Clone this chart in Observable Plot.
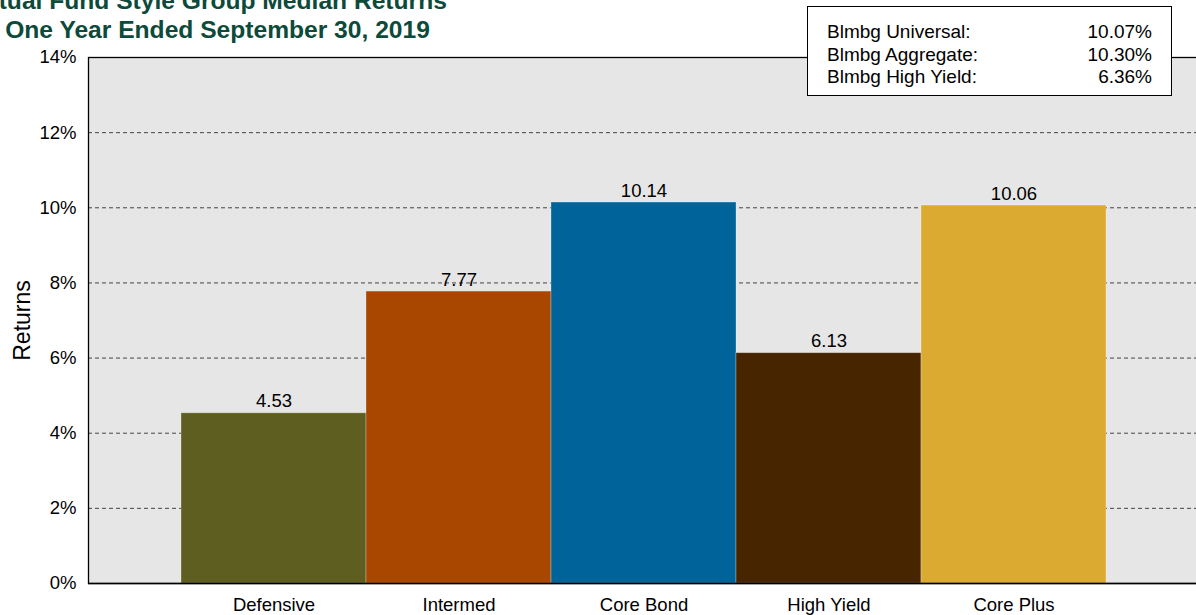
<!DOCTYPE html>
<html>
<head>
<meta charset="utf-8">
<script src="https://cdn.jsdelivr.net/npm/d3@7"></script>
<script src="https://cdn.jsdelivr.net/npm/@observablehq/plot@0.6"></script>
<style>
  html, body { margin: 0; padding: 0; background: #fff; }
  body { font-family: "Liberation Sans", Arial, sans-serif; }
  #wrap { position: relative; width: 1196px; height: 615px; overflow: hidden; }
  #chart { position: absolute; left: 0; top: 0; }
  .title { position: absolute; font-weight: bold; font-size: 24.6px; color: #0c4a3a; white-space: nowrap; text-align: center; width: 700px; line-height: 1; }
  #legend { position: absolute; left: 807px; top: 6px; width: 365px; height: 90px; border: 1px solid #000; background: #fff; box-sizing: border-box; }
  .row { position: absolute; left: 19px; right: 19px; font-size: 19px; line-height: 1; color: #000; }
  .row .v { position: absolute; right: 0; top: 0; }
</style>
</head>
<body>
<div id="wrap">
  <div id="chart"></div>
  <div class="title" id="t1"></div>
  <div class="title" id="t2"></div>
  <div id="legend"></div>
</div>
<script>
const titleLines = ["Mutual Fund Style Group Median Returns", "One Year Ended September 30, 2019"];
const categories = ["Defensive", "Intermed", "Core Bond", "High Yield", "Core Plus"];
const values = [4.53, 7.77, 10.14, 6.13, 10.06];
const colors = ["#5d5e20", "#a94700", "#00649b", "#472500", "#dbaa31"];
const yTicks = [0, 2, 4, 6, 8, 10, 12, 14];
const gridTicks = [2, 4, 6, 8, 10, 12];
const benchNames = ["Blmbg Universal:", "Blmbg Aggregate:", "Blmbg High Yield:"];
const benchValues = ["10.07%", "10.30%", "6.36%"];
const yLabel = "Returns";

const data = categories.map((c, i) => ({cat: c, val: values[i], color: colors[i]}));

const chart = Plot.plot({
  width: 1196,
  height: 615,
  marginTop: 57,
  marginBottom: 32,
  marginLeft: 88,
  marginRight: 0,
  style: {fontFamily: "'Liberation Sans', Arial, sans-serif", fontSize: "18px", color: "#000", background: "transparent"},
  x: {domain: categories, paddingInner: 0, paddingOuter: 0.485, align: 0.51, label: null, tickSize: 0, tickPadding: 14},
  y: {domain: [0, 14], ticks: yTicks, tickFormat: d => `${d}%`, tickSize: 0, tickPadding: 12, label: null},
  color: {type: "identity"},
  marks: [
    Plot.frame({fill: "#e6e6e6", stroke: null}),
    Plot.ruleY(gridTicks, {stroke: "#444", strokeWidth: 1, strokeDasharray: "4,3"}),
    Plot.barY(data, {x: "cat", y: "val", fill: "color", inset: 0, stroke: "#fff", strokeOpacity: 0.35, strokeWidth: 0.8}),
    Plot.text(data, {x: "cat", y: "val", text: d => d.val.toFixed(2), lineAnchor: "bottom", dy: -6, fill: "#000", fontSize: 18.5}),
    Plot.frame({fill: "none", stroke: "#000", strokeWidth: 1.3, insetRight: -4}),
    Plot.ruleY([0], {stroke: "#000", strokeWidth: 1.5}),
    Plot.axisY({ticks: yTicks, tickFormat: d => `${d}%`, tickSize: 0, tickPadding: 12, label: null, fontSize: 18.5}),
    Plot.axisX({tickSize: 0, tickPadding: 14, label: null, fontSize: 18.5}),
    Plot.text([yLabel], {frameAnchor: "left", dx: -66, rotate: -90, textAnchor: "middle", fontSize: 23, fill: "#000"})
  ]
});
document.getElementById("chart").appendChild(chart);

const t1 = document.getElementById("t1");
t1.textContent = titleLines[0];
t1.style.left = (205 - 350) + "px";
t1.style.top = "-11px";
const t2 = document.getElementById("t2");
t2.textContent = titleLines[1];
t2.style.left = (217.5 - 350) + "px";
t2.style.top = "18px";

const legend = document.getElementById("legend");
benchNames.forEach((n, i) => {
  const r = document.createElement("div");
  r.className = "row";
  r.style.top = (15 + i * 22.5) + "px";
  r.innerHTML = `<span>${n}</span><span class="v">${benchValues[i]}</span>`;
  legend.appendChild(r);
});
</script>
</body>
</html>
